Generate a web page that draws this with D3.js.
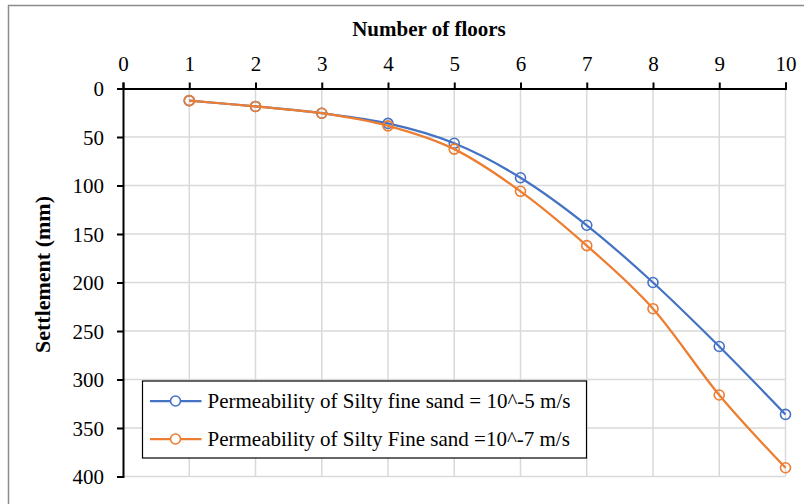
<!DOCTYPE html>
<html>
<head>
<meta charset="utf-8">
<script src="https://cdn.jsdelivr.net/npm/d3@7"></script>
<style>
  html, body { margin: 0; padding: 0; background: #fff; }
  svg { display: block; }
  text { font-family: "Liberation Serif", "Times New Roman", serif; fill: #000; }
</style>
</head>
<body>
<svg id="chart" width="804" height="504"></svg>
<script>
// Number of floors on the building
const floors = [1, 2, 3, 4, 5, 6, 7, 8, 9, 10];
// Settlement (mm) for each permeability case
const settlementK5 = [12.5, 18.5, 25.5, 36, 56.5, 92, 141, 200, 266, 336];
const settlementK7 = [12.5, 18.5, 25.5, 38.5, 62.5, 106, 162, 227, 316, 391];
const seriesNames = [
  "Permeability of Silty fine sand = 10^-5 m/s",
  "Permeability of Silty Fine sand =10^-7 m/s"
];
const seriesColors = ["#4472C4", "#ED7D31"];
const xTicks = [0, 1, 2, 3, 4, 5, 6, 7, 8, 9, 10];
const yTicks = [0, 50, 100, 150, 200, 250, 300, 350, 400];

const svg = d3.select("#chart");
const plot = { left: 123, right: 785.5, top: 88.5, bottom: 476.5 };

const x = d3.scaleLinear().domain([0, 10]).range([plot.left, plot.right]);
const y = d3.scaleLinear().domain([0, 400]).range([plot.top, plot.bottom]);

// outer chart frame
svg.append("rect")
  .attr("x", 8.5).attr("y", 5.5)
  .attr("width", 820).attr("height", 520)
  .attr("fill", "none").attr("stroke", "#8c8c8c").attr("stroke-width", 1.5);

// gridlines
const grid = svg.append("g").attr("stroke", "#d9d9d9").attr("stroke-width", 1.5);
grid.selectAll(".gv").data(xTicks.slice(1)).join("line")
  .attr("x1", d => x(d)).attr("x2", d => x(d))
  .attr("y1", plot.top).attr("y2", plot.bottom);
grid.selectAll(".gh").data(yTicks.slice(1)).join("line")
  .attr("x1", plot.left).attr("x2", plot.right)
  .attr("y1", d => y(d)).attr("y2", d => y(d));

// axes
const xAxis = d3.axisTop(x).tickValues(xTicks).tickFormat(d3.format("d")).tickSizeInner(6).tickSizeOuter(6).tickPadding(12);
const yAxis = d3.axisLeft(y).tickValues(yTicks).tickFormat(d3.format("d")).tickSizeInner(6).tickSizeOuter(6).tickPadding(13);

const gx = svg.append("g").attr("transform", `translate(0,${plot.top})`).call(xAxis);
const gy = svg.append("g").attr("transform", `translate(${plot.left},0)`).call(yAxis);
[gx, gy].forEach(g => {
  g.selectAll("path, line").attr("stroke", "#000").attr("stroke-width", 2);
  g.selectAll("text").style("font-family", '"Liberation Serif", serif').style("font-size", "21px").attr("fill", "#000");
});
gy.selectAll("text").attr("dy", "0.34em");

// axis titles
svg.append("text")
  .attr("x", 429).attr("y", 36)
  .attr("text-anchor", "middle")
  .style("font-size", "21px").style("font-weight", "bold")
  .text("Number of floors");
svg.append("text")
  .attr("transform", `translate(50,${(plot.top + plot.bottom) / 2 - 8}) rotate(-90)`)
  .attr("text-anchor", "middle")
  .style("font-size", "22px").style("font-weight", "bold")
  .text("Settlement (mm)");

// series
const line = d3.line()
  .x((d, i) => x(floors[i]))
  .y(d => y(d))
  .curve(d3.curveCatmullRom.alpha(0));

[settlementK5, settlementK7].forEach((vals, s) => {
  const g = svg.append("g");
  g.append("path")
    .datum(vals)
    .attr("d", line)
    .attr("fill", "none")
    .attr("stroke", seriesColors[s])
    .attr("stroke-width", 2.25);
  g.selectAll("circle").data(vals).join("circle")
    .attr("cx", (d, i) => x(floors[i]))
    .attr("cy", d => y(d))
    .attr("r", 5)
    .attr("fill", "none")
    .attr("stroke", seriesColors[s])
    .attr("stroke-width", 1.6);
});

// legend
const legend = svg.append("g").attr("transform", "translate(142.5,381)");
legend.append("rect")
  .attr("width", 444).attr("height", 77)
  .attr("fill", "#fff").attr("stroke", "#000").attr("stroke-width", 1.2);
seriesNames.forEach((name, s) => {
  const ly = 20 + s * 38;
  legend.append("line")
    .attr("x1", 7.5).attr("x2", 59).attr("y1", ly).attr("y2", ly)
    .attr("stroke", seriesColors[s]).attr("stroke-width", 2.25);
  legend.append("circle")
    .attr("cx", 33).attr("cy", ly).attr("r", 5)
    .attr("fill", "#fff").attr("stroke", seriesColors[s]).attr("stroke-width", 1.6);
  legend.append("text")
    .attr("x", 65).attr("y", ly).attr("dy", "0.35em")
    .style("font-size", "21px")
    .text(name);
});
</script>
</body>
</html>
